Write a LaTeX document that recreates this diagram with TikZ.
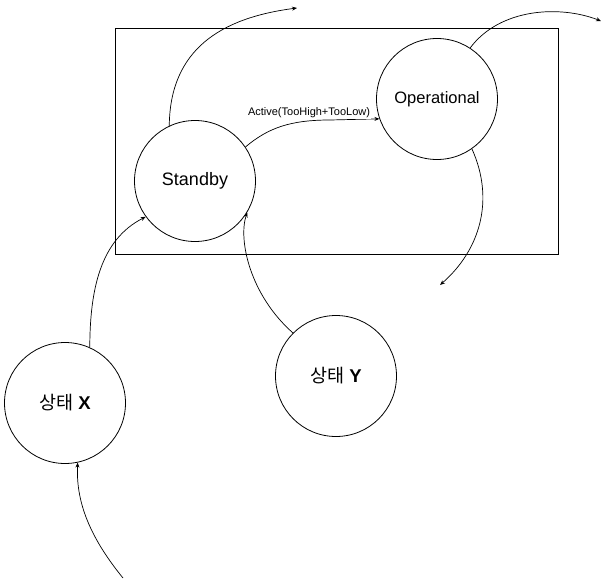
\documentclass[tikz,border=0pt]{standalone}
\usepackage{fontspec}
\setmainfont{Liberation Sans}
\newfontfamily\krfont{Noto Sans CJK KR}
\usetikzlibrary{arrows.meta}
\begin{document}
\begin{tikzpicture}[x=1pt,y=-1pt,
  state/.style={circle,draw,line width=0.8pt,minimum size=121pt,inner sep=0pt},
  arr/.style={draw,line width=0.7pt,-{Stealth[length=5pt,width=4pt]}}]
\useasboundingbox (0,0) rectangle (603,582);
\draw[line width=0.8pt] (115,28) rectangle (558,254);
\node[state,font=\fontsize{18}{20}\selectfont] (sb) at (195,181) {Standby};
\node[state,font=\fontsize{16.5}{19}\selectfont] (op) at (437,99) {Operational};
\node[state,font=\fontsize{18.5}{20}\selectfont] (sx) at (65,403) {{\krfont 상태} \textbf{X}};
\node[state,font=\fontsize{18.5}{20}\selectfont] (sy) at (336,376) {{\krfont 상태} \textbf{Y}};
\coordinate (inx) at (123,578);
\coordinate (outsb) at (297,8);
\coordinate (outop) at (601,21);
\coordinate (outop2) at (440,285);
\draw[arr] (inx) .. controls (88,535) and (76,500) .. (sx.282);
\draw[arr] (sx.66) .. controls (90,290) and (100,240) .. (sb.216);
\draw[arr] (sy.135) .. controls (250,295) and (238,240) .. (sb.329);
\draw[arr] (sb.115) .. controls (170,50) and (220,18) .. (outsb);
\draw[arr] (sb.34) .. controls (268,128) and (290,120) .. (330,120) -- (op.199);
\node[fill=white,inner sep=1pt,font=\fontsize{11}{13}\selectfont] (lbl) at (309,113) {Active(TooHigh+TooLow)};
\draw[arr] (op.57) .. controls (500,8) and (560,5) .. (outop);
\draw[arr] (op.305) .. controls (495,200) and (480,250) .. (outop2);
\end{tikzpicture}
\end{document}
